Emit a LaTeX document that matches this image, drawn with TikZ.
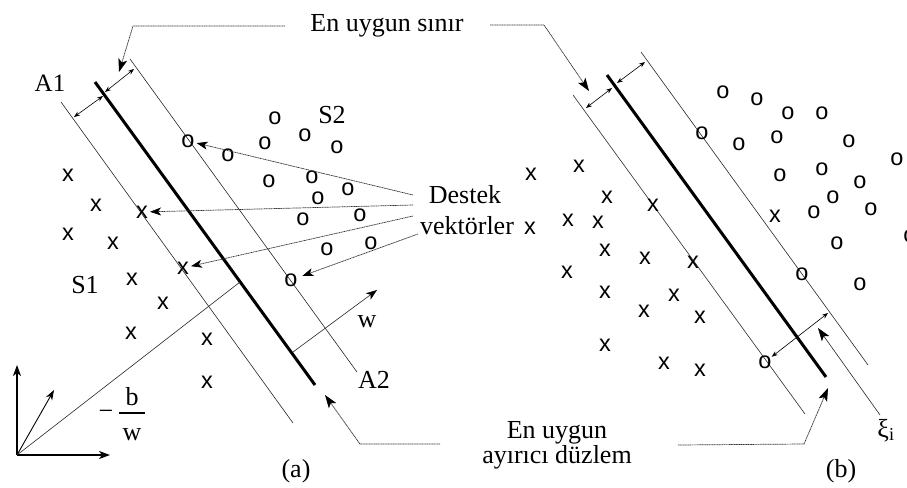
\documentclass[tikz,border=0pt]{standalone}
\usepackage{fontspec}
\setmainfont{Liberation Serif}
\newfontfamily\mkfont{Liberation Sans}
\usetikzlibrary{arrows.meta}
\tikzset{
  lbl/.style={font=\fontsize{26}{28}\selectfont, inner sep=0pt, anchor=base},
  mk/.style={font=\mkfont\fontsize{23.5}{24}\selectfont, inner sep=0pt},
  thinln/.style={line width=0.6pt, black!85},
  hyp/.style={line width=3pt},
  lead/.style={line width=0.7pt, black!80, dash pattern=on 1.2pt off 0.5pt,
    -{Stealth[length=13pt,width=9pt,inset=3pt,color=black]}},
  vlead/.style={line width=0.7pt, black!80, dash pattern=on 1.2pt off 0.5pt,
    -{Stealth[length=11pt,width=8pt,inset=3pt,color=black]}, shorten >=2pt},
  dbl/.style={line width=0.6pt, {Stealth[length=6pt,width=4.5pt]}-{Stealth[length=6pt,width=4.5pt]}},
  ax/.style={line width=1.2pt, -{Stealth[length=11pt,width=8pt,inset=3pt]}},
}
\begin{document}
\begin{tikzpicture}[x=1pt,y=-1pt]
\useasboundingbox (0,0) rectangle (907,487);

% ---------------- panel (a) ----------------
\coordinate (A1s) at (61,102);  \coordinate (A1e) at (293,423);
\coordinate (A2s) at (130,59);  \coordinate (A2e) at (357,372);
\coordinate (H1s) at (95,82);   \coordinate (H1e) at (315,385);
\draw[thinln] (A1s) -- (A1e);
\draw[thinln] (A2s) -- (A2e);
\draw[hyp] (H1s) -- (H1e);
\coordinate (da1) at (74,117);  \coordinate (da2) at (103,96);
\coordinate (da3) at (105,92);  \coordinate (da4) at (134,69);
\draw[dbl] (da1) -- (da2);
\draw[dbl] (da3) -- (da4);

% markers (a)
\foreach \p [count=\i] in {(68,175),(96,205),(68,234),(113,243),(132,279),(163,303),(131,333),(207,339),(207,382)}
  \node[mk] (xa\i) at \p {x};
\node[mk] (xs1) at (142,212) {x};
\node[mk] (xs2) at (183,268) {x};
\foreach \p [count=\i] in {(275,118),(265,143),(305,135),(337,147),(228,155),(269,181),(312,177),(348,189),(318,198),(303,219),(360,215),(327,249),(371,243)}
  \node[mk] (oa\i) at \p {o};
\node[mk] (os1) at (188,141) {o};
\node[mk] (os2) at (291,280) {o};

% labels (a)
\node[lbl, font=\fontsize{25}{27}\selectfont] (lA1) at (50,92) {A1};
\node[lbl] (lS2) at (332,123) {S2};
\node[lbl] (lS1) at (85,293) {S1};
\node[lbl] (lA2) at (374,388) {A2};
\node[lbl] (lw) at (367,327) {w};
\node[lbl] (la) at (296,477) {(a)};

% axes and offset
\coordinate (O) at (17,455);
\coordinate (Oy) at (17,365);
\coordinate (Ox) at (110,455);
\coordinate (Od) at (54,390);
\coordinate (Hp) at (240,282);
\draw[ax] (O) -- (Oy);
\draw[ax] (O) -- (Ox);
\draw[line width=0.9pt, -{Stealth[length=10pt,width=7pt,inset=3pt]}] (O) -- (Od);
\draw[thinln] (O) -- (Hp);
\node[lbl] (lminus) at (106,419.5) {−};
\coordinate (fb1) at (119,413); \coordinate (fb2) at (145,413);
\draw[line width=1.1pt] (fb1) -- (fb2);
\node[lbl] (lb) at (132,405) {b};
\node[lbl] (lw2) at (132,440) {w};

% w normal
\coordinate (w0) at (293,352); \coordinate (w1) at (377,290);
\draw[thinln, -{Stealth[length=11pt,width=8pt,inset=3pt,color=black]}] (w0) -- (w1);

% title and leaders
\node[lbl] (title) at (387,32) {En uygun sınır};
\coordinate (t1) at (285,26); \coordinate (t2) at (133,26); \coordinate (t3) at (119,72);
\draw[lead] (t1) -- (t2) -- (t3);
\coordinate (t4) at (490,25); \coordinate (t5) at (544,25); \coordinate (t6) at (589,91);
\draw[lead] (t4) -- (t5) -- (t6);

% Destek vektörler
\node[lbl] (destek) at (465,203) {Destek};
\node[lbl] (vektor) at (467,234) {vektörler};
\coordinate (d1) at (413,195); \coordinate (d2) at (413,205);
\coordinate (d3) at (413,216); \coordinate (d4) at (418,234);
\draw[vlead] (d1) -- (os1);
\draw[vlead] (d2) -- (xs1);
\draw[vlead] (d3) -- (xs2);
\draw[vlead, shorten >=5pt] (d4) -- (os2);

% bottom leader (a)
\coordinate (b1) at (440,444); \coordinate (b2) at (360,444); \coordinate (b3) at (325,395);
\draw[lead] (b1) -- (b2) -- (b3);

% ---------------- panel (b) ----------------
\coordinate (B1s) at (573,95);  \coordinate (B1e) at (805,414);
\coordinate (B2s) at (641,52);  \coordinate (B2e) at (868,365);
\coordinate (H2s) at (607,75);  \coordinate (H2e) at (826,377);
\draw[thinln] (B1s) -- (B1e);
\draw[thinln] (B2s) -- (B2e);
\draw[hyp] (H2s) -- (H2e);
\coordinate (db1) at (586,108); \coordinate (db2) at (612,88);
\coordinate (db3) at (617,83);  \coordinate (db4) at (645,62);
\draw[dbl] (db1) -- (db2);
\draw[dbl] (db3) -- (db4);

\foreach \p [count=\i] in {(531,174),(579,166),(607,197),(653,205),(530,228),(568,220),(598,222),(605,250),(645,258),(693,262),(567,272),(605,292),(674,295),(644,311),(700,317),(605,345),(664,363),(700,370),(775,216)}
  \node[mk] (xb\i) at \p {x};
\foreach \p [count=\i] in {(723,92),(757,99),(788,113),(822,113),(739,144),(777,137),(849,141),(897,159),(780,175),(822,169),(860,182),(833,197),(814,212),(871,209),(910,236),(837,243),(860,284),(802,274)}
  \node[mk] (ob\i) at \p {o};
\node[mk] (obs1) at (702,133) {o};
\node[mk] (obs2) at (765,362) {o};

\coordinate (xe) at (828,313);
\draw[dbl] (obs2) -- (xe);
\node[lbl] (xi) at (886,437) {ξ\textsubscript{i}};
\coordinate (xi1) at (880,415); \coordinate (xi2) at (818,328);
\draw[thinln, -{Stealth[length=13pt,width=9pt,inset=3pt,color=black]}] (xi1) -- (xi2);

\node[lbl] (lb2) at (841,477) {(b)};
\node[lbl] (eu1) at (557,438) {En uygun};
\node[lbl] (eu2) at (557,463) {ayırıcı düzlem};
\coordinate (c1) at (678,445); \coordinate (c2) at (804,444); \coordinate (c3) at (828,388);
\draw[lead] (c1) -- (c2) -- (c3);
\end{tikzpicture}
\end{document}
